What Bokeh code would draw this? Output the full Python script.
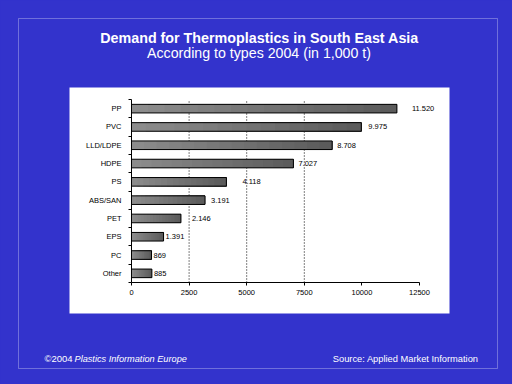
from bokeh.plotting import figure
from bokeh.models import (FixedTicker, BoxAnnotation, Label, ColumnDataSource,
                          Range1d, LabelSet)
from bokeh.core.properties import value
from bokeh.embed import file_html
from bokeh.resources import INLINE

# ---- data ----
categories = ["PP", "PVC", "LLD/LDPE", "HDPE", "PS", "ABS/SAN", "PET", "EPS", "PC", "Other"]
values = [11520, 9975, 8708, 7027, 4118, 3191, 2146, 1391, 869, 885]
x_ticks = [0, 2500, 5000, 7500, 10000, 12500]
grid_ticks = [2500, 5000, 7500]
title_text = "Demand for Thermoplastics in South East Asia"
subtitle_text = "According to types 2004 (in 1,000 t)"
footer_left_a = "©2004"
footer_left_b = "Plastics Information Europe"
footer_right = "Source: Applied Market Information"

# style: pixel gap between each bar end and its value label (as in the original)
label_gap = [15, 7, 5, 5, 16, 6, 11, 2, 2, 2]

BLUE = "#3333cc"
FONT = "Liberation Sans"
W, H = 512, 384

n = len(categories)
ypos = [n - 1 - i for i in range(n)]  # PP at top
xmin, xmax = x_ticks[0], x_ticks[-1]
ylo, yhi = -0.5, n - 0.5

# plot-area placement on the canvas (pixels)
PL, PR, PT, PB = 131, 419, 99, 282
xs = (PR - PL) / (xmax - xmin)
ys = (PB - PT) / (yhi - ylo)
x_range = Range1d(xmin - PL / xs, xmax + (W - PR) / xs)
y_range = Range1d(ylo - (H - PB) / ys, yhi + PT / ys)

p = figure(width=W, height=H, output_backend="svg", toolbar_location=None,
           x_range=x_range, y_range=y_range,
           min_border=0, min_border_left=0, min_border_right=0,
           min_border_top=0, min_border_bottom=0)
p.background_fill_color = BLUE
p.border_fill_color = BLUE
p.outline_line_color = None
p.xgrid.visible = False
p.ygrid.visible = False

def sy(cy):
    return H - cy

# decorative frame and white panel (screen units)
p.add_layout(BoxAnnotation(left=18, right=497, top=sy(18), bottom=sy(368),
                           left_units="screen", right_units="screen",
                           top_units="screen", bottom_units="screen",
                           fill_color=None, fill_alpha=0, line_color="white", line_width=1,
                           level="image"))
p.add_layout(BoxAnnotation(left=69, right=449, top=sy(87), bottom=sy(313),
                           left_units="screen", right_units="screen",
                           top_units="screen", bottom_units="screen",
                           fill_color="white", fill_alpha=1, line_color=None,
                           level="image"))

# dotted grid lines inside the plot area
p.segment(x0=grid_ticks, x1=grid_ticks, y0=[ylo] * len(grid_ticks), y1=[yhi] * len(grid_ticks),
          line_color="black", line_width=1, line_dash="1 2")

# gradient bars built from the values
steps = 16
for k in range(steps):
    f0 = k / steps
    shade = int(0x8e - (0x8e - 0x5a) * (k + 0.5) / steps)
    col = "#%02x%02x%02x" % (shade, shade, shade)
    p.hbar(y=ypos, left=[v * f0 for v in values], right=values,
           height=0.47, fill_color=col, line_color=None)
p.hbar(y=ypos, left=0, right=values, height=0.47, fill_color=None,
       line_color="black", line_width=1)

# value labels
lab_src = ColumnDataSource(dict(x=values, y=ypos, dx=label_gap,
                                t=[f"{v:,}".replace(",", ".") for v in values]))
p.add_layout(LabelSet(x="x", y="y", text="t", source=lab_src, x_offset="dx",
                      text_font=value(FONT), text_font_size="7.5px",
                      text_baseline="middle", text_color="black"))

# axes
xa = p.xaxis[0]
xa.fixed_location = ylo
xa.bounds = (xmin, xmax)
xa.ticker = FixedTicker(ticks=x_ticks)
xa.axis_line_color = "black"
xa.major_tick_out = 3
xa.major_tick_in = 0
xa.minor_tick_line_color = None
xa.major_label_text_font = FONT
xa.major_label_text_font_size = "7.5px"
xa.major_label_text_color = "black"
xa.major_label_standoff = 4

ya = p.yaxis[0]
ya.fixed_location = xmin
ya.bounds = (ylo, yhi)
ya.ticker = FixedTicker(ticks=ypos, minor_ticks=[i - 0.5 for i in range(n + 1)])
ya.major_label_overrides = {y: c for y, c in zip(ypos, categories)}
ya.major_tick_line_color = None
ya.major_tick_out = 0
ya.major_tick_in = 0
ya.minor_tick_out = 3
ya.minor_tick_in = 0
ya.minor_tick_line_color = "black"
ya.axis_line_color = "black"
ya.major_label_text_font = FONT
ya.major_label_text_font_size = "7.5px"
ya.major_label_text_color = "black"
ya.major_label_standoff = 7

# titles and footers
def add_text(x, cy, text, size, style="normal", align="left"):
    p.add_layout(Label(x=x, y=sy(cy), x_units="screen", y_units="screen", text=text,
                       text_font=FONT, text_font_style=style, text_font_size=size,
                       text_color="white", text_align=align, text_baseline="middle"))

add_text(259, 37, title_text, "14.3px", "bold", "center")
add_text(258.5, 52.5, subtitle_text, "14.2px", "normal", "center")
add_text(44, 358, footer_left_a, "9.5px")
add_text(74, 358, footer_left_b, "9.2px", "italic")
add_text(478, 358, footer_right, "9.3px", "normal", "right")

html = file_html(p, INLINE)
html = html.replace("<head>", "<head><style>html,body{background:#3333cc;}</style>", 1)
open("out.html", "w").write(html)
